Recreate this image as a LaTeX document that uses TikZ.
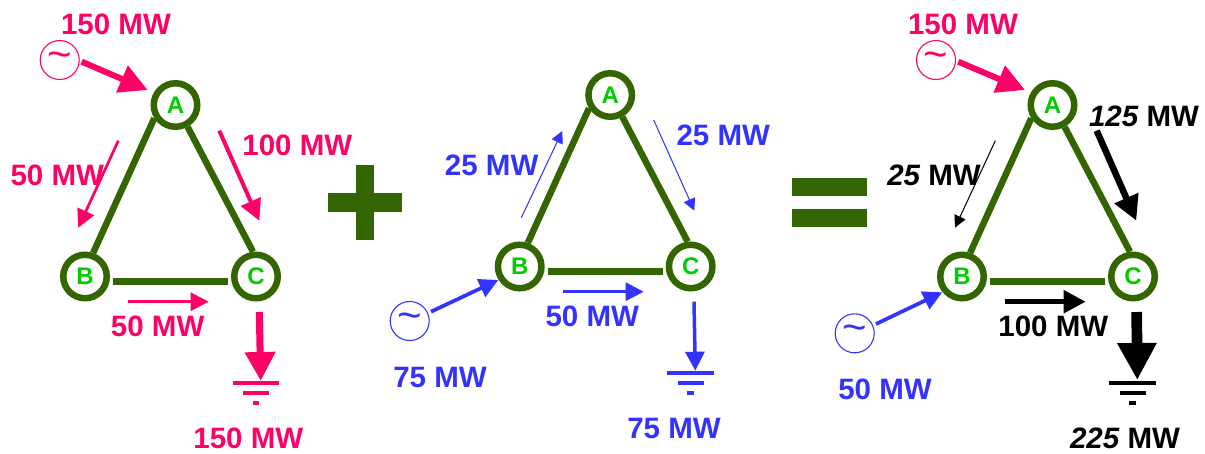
\documentclass[tikz,border=0pt]{standalone}
\usepackage{fontspec}
\setmainfont{Liberation Sans}
\usetikzlibrary{arrows.meta}
\definecolor{netgreen}{HTML}{336600}
\definecolor{busgreen}{HTML}{00CC00}
\definecolor{pinkflow}{HTML}{FF0066}
\definecolor{blueflow}{HTML}{3333FF}
\tikzset{
  busnode/.style={circle,draw=netgreen,fill=white,line width=6.5pt,minimum size=43.5pt,inner sep=0pt,outer sep=3.25pt,text=busgreen,font=\fontsize{24}{24}\selectfont\bfseries},
  lineedge/.style={draw=netgreen,line width=6.5pt},
  bar/.style={fill=netgreen,draw=none},
  gennode/.style={circle,draw=#1,line width=1.1pt,minimum size=39pt,inner sep=0pt,text=#1,font=\fontsize{42}{42}\selectfont},
  mw/.style={anchor=base,text=#1,font=\fontsize{29.5}{30}\selectfont\bfseries,inner sep=0pt},
  flowline/.style n args={3}{draw=#1,fill=#1,line width=#2pt,-{Triangle[length=#3pt,width=#3pt]}},
  groundline/.style={draw=#1,line width=3.3pt},
}
\newcommand{\tilt}{\raisebox{-5pt}{\textasciitilde}}
\newcommand{\flowarrow}[6]{% name, colour, width, head, from, to
  \coordinate (#1s) at (#5);
  \coordinate (#1e) at (#6);
  \draw[flowline={#2}{#3}{#4}] (#1s) -- (#1e);
}
\newcommand{\network}[3]{% prefix, dx, dy
  \node[busnode] (#1a) at ({175.5+#2},{105+#3}) {A};
  \node[busnode] (#1b) at ({85+#2},{276.5+#3}) {B};
  \node[busnode] (#1c) at ({256+#2},{276.5+#3}) {C};
  \draw[lineedge] (#1a.212) -- (#1b.71);
  \draw[lineedge] (#1a.-61) -- (#1c.97);
  \draw[lineedge] ([shift={(28,5.2)}]#1b.center) -- ([shift={(-28,5.2)}]#1c.center);
}
\newcommand{\earth}[4]{% name, colour, x, y
  \coordinate (#1) at (#3,#4);
  \draw[groundline=#2] ([shift={(-23.3,0)}]#1) -- ([shift={(23.3,0)}]#1);
  \draw[groundline=#2] ([shift={(-13.2,10)}]#1) -- ([shift={(13.2,10)}]#1);
  \draw[groundline=#2] ([shift={(-3.3,20)}]#1) -- ([shift={(3.3,20)}]#1);
}
\begin{document}
\begin{tikzpicture}[x=1pt,y=-1pt]
\useasboundingbox (0,0) rectangle (1205,453);
% --- operators
\fill[bar] (355.7,165) rectangle (374.3,239.7);
\fill[bar] (328,193.3) rectangle (402,211.7);
\fill[bar] (792,178) rectangle (866.7,195.7);
\fill[bar] (792,209) rectangle (866.7,227);
% --- left network
\network{p}{0}{0}
\node[gennode=pinkflow] (pg) at (59.7,60) {\tilt};
\flowarrow{pf1}{pinkflow}{6}{28}{81.7,61.7}{147.7,90}
\flowarrow{pf2}{pinkflow}{4}{21}{219.3,130.7}{259.3,220.7}
\flowarrow{pf3}{pinkflow}{2.7}{18}{118.3,140.7}{78.3,227.7}
\flowarrow{pf4}{pinkflow}{3}{18}{128.3,301.7}{208.7,301.7}
\flowarrow{pf5}{pinkflow}{7}{29}{259.3,312}{260.7,381}
\earth{pe}{pinkflow}{256}{383}
\node[mw=pinkflow] (pt1) at (116,34.3) {150 MW};
\node[mw=pinkflow] (pt2) at (297.3,155.3) {100 MW};
\node[mw=pinkflow] (pt3) at (57.3,185.7) {50 MW};
\node[mw=pinkflow] (pt4) at (157.7,336.7) {50 MW};
\node[mw=pinkflow] (pt5) at (248.3,448.3) {150 MW};
% --- middle network
\network{q}{434.7}{-10}
\node[gennode=blueflow] (qg) at (409.7,321) {\tilt};
\flowarrow{qf1}{blueflow}{3.7}{19}{431,311.7}{498.3,280}
\flowarrow{qf2}{blueflow}{1}{12}{521.3,217.7}{562.3,131}
\flowarrow{qf3}{blueflow}{1}{12}{653.7,120}{694.3,210.7}
\flowarrow{qf4}{blueflow}{3}{18}{563.3,291.7}{643.7,291.7}
\flowarrow{qf5}{blueflow}{3.5}{19}{694,301.7}{695.3,370.7}
\earth{qe}{blueflow}{690.7}{373}
\node[mw=blueflow] (qt1) at (440,387.3) {75 MW};
\node[mw=blueflow] (qt2) at (491.7,175.3) {25 MW};
\node[mw=blueflow] (qt3) at (723.3,145.7) {25 MW};
\node[mw=blueflow] (qt4) at (592.3,326.3) {50 MW};
\node[mw=blueflow] (qt5) at (674,438.3) {75 MW};
% --- right network
\network{r}{877}{0}
\node[gennode=pinkflow] (rg1) at (936,60) {\tilt};
\node[gennode=blueflow] (rg2) at (854.7,333.3) {\tilt};
\flowarrow{rf1}{pinkflow}{6}{28}{958.3,61.7}{1025,90}
\flowarrow{rf2}{blueflow}{3.7}{19}{876,324}{942.3,292.3}
\flowarrow{rf3}{black}{1}{12}{995.3,140.7}{955,227.7}
\flowarrow{rf4}{black}{6.5}{24.7}{1096.7,130.7}{1136.3,220.7}
\flowarrow{rf5}{black}{5}{22}{1005.3,301.7}{1085.7,301.7}
\flowarrow{rf6}{black}{10.7}{37}{1136.7,312}{1137.3,380}
\earth{re}{black}{1132.7}{383}
\node[mw=pinkflow] (rt1) at (963,34.3) {150 MW};
\node[mw=blueflow] (rt2) at (885,399.3) {50 MW};
\node[mw=black] (rt3) at (934,185.7) {{\itshape 25} MW};
\node[mw=black] (rt4) at (1144,126.7) {{\itshape 125} MW};
\node[mw=black] (rt5) at (1053.3,336.7) {100 MW};
\node[mw=black] (rt6) at (1125,448.3) {{\itshape 225} MW};
\end{tikzpicture}
\end{document}
